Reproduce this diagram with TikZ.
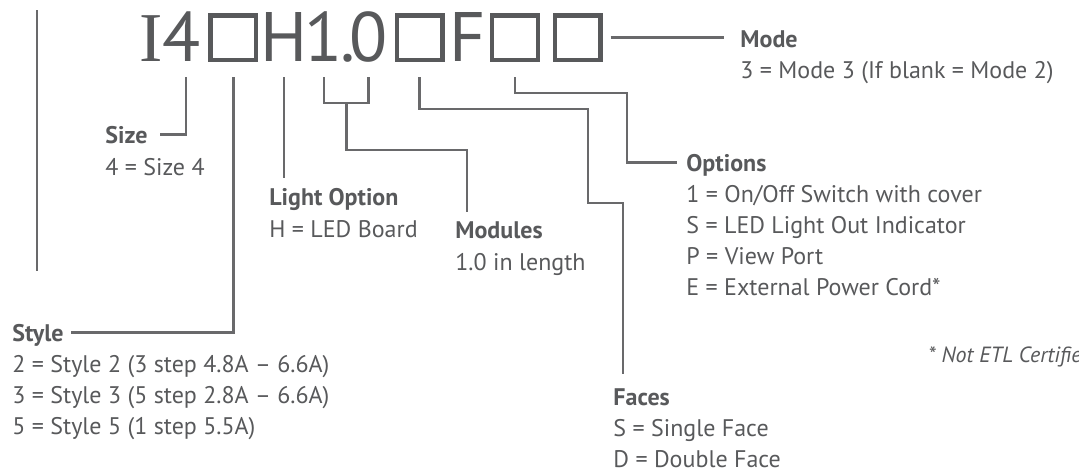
\documentclass[tikz,border=0pt]{standalone}
\usepackage{fontspec}
\setmainfont{PT Sans}
\newfontfamily\capserif{Liberation Serif}
\usetikzlibrary{positioning,calc}
\definecolor{inkgray}{HTML}{58595B}
\definecolor{leadgray}{HTML}{69696B}
\tikzset{
  codechar/.style={font=\fontsize{35}{35}\selectfont,text=inkgray,
    inner sep=0pt,anchor=base},
  slotbox/.style={rectangle,draw=inkgray,line width=2.1pt,
    minimum width=22.9pt,minimum height=22.4pt,inner sep=0pt},
  headtxt/.style={font=\fontsize{12}{15.5}\selectfont\bfseries,text=inkgray,
    inner sep=0pt,text height=8.2pt,text depth=0pt,anchor=base west},
  bodytxt/.style={font=\fontsize{12}{15.5}\selectfont,text=inkgray,
    inner sep=0pt,align=left,anchor=base west},
  lead/.style={draw=leadgray,line width=1.35pt},
}

\begin{document}
\begin{tikzpicture}[x=0.5pt,y=-0.5pt]
  \useasboundingbox (0,0) rectangle (1079,471);
  % code line
  \node[codechar,anchor=base east] (cfour) at (201,61.7) {{\capserif I}4};
  \node[slotbox]  (stylebox) at (233.3,37.8) {};
  \node[codechar] (clight) at (284,61.7)  {H};
  \node[codechar] (cone)  at (324,61.7)   {1};
  \node[codechar] (cdot)  at (347.5,61.7) {.};
  \node[codechar] (czero) at (368.5,61.7) {0};
  \node[slotbox]  (facebox) at (419.5,37.8) {};
  \node[codechar] (cF)    at (467.5,61.7) {F};
  \node[slotbox]  (optbox) at (515,37.8) {};
  \node[slotbox]  (modebox) at (577.5,37.8) {};
  \coordinate (toprow) at (0,77);
  % left rule
  \draw[lead] (37,10) -- (37,271);
  % labels (multi-line bodies sit on their last baseline)
  \node[headtxt] (sizehead)  at (105,143) {Size};
  \node[bodytxt] (sizebody)  at (105,175) {4 = Size 4};
  \node[headtxt] (stylehead) at (12,341)  {Style};
  \node[bodytxt] (stylebody) at (12,434)
    {2 = Style 2 (3 step 4.8A -- 6.6A)\\3 = Style 3 (5 step 2.8A -- 6.6A)\\5 = Style 5 (1 step 5.5A)};
  \node[headtxt] (lighthead) at (269,205) {Light Option};
  \node[bodytxt] (lightbody) at (269,237) {H = LED Board};
  \node[headtxt] (modhead)   at (455,238) {Modules};
  \node[bodytxt] (modbody)   at (455,270) {1.0 in length};
  \node[headtxt] (opthead)   at (686,171) {Options};
  \node[bodytxt] (optbody)   at (686,295)
    {1 = On/Off Switch with cover\\S = LED Light Out Indicator\\P = View Port\\E = External Power Cord*};
  \node[headtxt] (faceshead) at (613,405) {Faces};
  \node[bodytxt] (facesbody) at (613,467) {S = Single Face\\D = Double Face};
  \node[headtxt] (modehead)  at (740,47)  {Mode};
  \node[bodytxt] (modebody)  at (740,78)  {3 = Mode 3 (If blank = Mode 2)};
  \node[bodytxt,font=\fontsize{11}{15}\selectfont\itshape] (etlnote) at (928,362) {* Not ETL Certified};
  % bends
  \coordinate (brk)    at (0,103);
  \coordinate (modbend) at (467,150);
  \coordinate (fbendA) at (588,109);
  \coordinate (fbendB) at (623,203);
  \coordinate (obend)  at (627,93);
  % connectors
  \draw[lead,shorten >=6pt] ([xshift=-7.5pt]cfour.east |- toprow) |- (sizehead.east);
  \draw[lead,shorten >=3.5pt] (stylebox |- toprow) |- (stylehead.east);
  \draw[lead,shorten >=5pt] (clight |- toprow) -- (clight |- lighthead.north);
  \draw[lead] (cone |- toprow) -- (cone |- brk) -- (czero |- brk) -- (czero |- toprow);
  \draw[lead,shorten >=4.5pt] ($(cone |- brk)!0.5!(czero |- brk)$) |- (modbend) -- (modbend |- modhead.north);
  \draw[lead,shorten >=7pt] (facebox |- toprow) |- (fbendA) |- (fbendB) -- (fbendB |- faceshead.north);
  \draw[lead,shorten >=4.5pt] (optbox |- toprow) |- (obend) |- (opthead.west);
  \draw[lead,shorten <=4pt,shorten >=8pt] (modebox.east) -- (modebox.east -| modehead.west);
\end{tikzpicture}
\end{document}
